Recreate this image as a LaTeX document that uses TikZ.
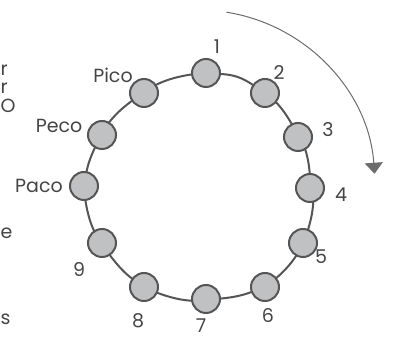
\documentclass[tikz,border=0pt]{standalone}
\usepackage{fontspec}
\setmainfont{Poppins}
\usepackage{xcolor}
\usetikzlibrary{arrows.meta,backgrounds}
\definecolor{ringgray}{HTML}{555555}
\definecolor{ballgray}{HTML}{C0C1C3}
\definecolor{textgray}{HTML}{444444}

\begin{document}
\begin{tikzpicture}[x=1pt,y=1pt,
  ball/.style={circle,draw=ringgray,fill=ballgray,line width=2pt,minimum size=28pt,inner sep=0pt},
  ring/.style={draw=ringgray,line width=2pt},
  lbl/.style={text=textgray,inner sep=0pt,font=\fontsize{19}{19}\selectfont},
  flow/.style={draw=gray!85!black,line width=1pt,-{Triangle[width=18pt,length=11pt]}}]
\useasboundingbox (0,0) rectangle (400,340);
% the twelve seats
\node[ball] (n1) at (206,267) {};
\node[ball] (n2) at (265,247) {};
\node[ball] (n3) at (298,203) {};
\node[ball] (n4) at (310,152) {};
\node[ball] (n5) at (303,97) {};
\node[ball] (n6) at (265,53) {};
\node[ball] (n7) at (206,41) {};
\node[ball] (n8) at (144,53) {};
\node[ball] (n9) at (102,97) {};
\node[ball] (paco) at (84,154) {};
\node[ball] (peco) at (102,205) {};
\node[ball] (pico) at (144,247) {};
\begin{scope}[on background layer]
\draw[ring] (n1) to[bend left=15] (n2) to[bend left=15] (n3) to[bend left=15] (n4)
  to[bend left=15] (n5) to[bend left=15] (n6) to[bend left=15] (n7)
  to[bend left=15] (n8) to[bend left=15] (n9) to[bend left=15] (paco)
  to[bend left=15] (peco) to[bend left=15] (pico) to[bend left=15] (n1);
\end{scope}
% labels
\node[lbl] (t1) at (217,293) {1};
\node[lbl] (t2) at (279,267) {2};
\node[lbl] (t3) at (328,210) {3};
\node[lbl] (t4) at (341,145) {4};
\node[lbl] (t5) at (321,83) {5};
\node[lbl] (t6) at (268,24) {6};
\node[lbl] (t7) at (201,14) {7};
\node[lbl] (t8) at (138,19) {8};
\node[lbl] (t9) at (79,70) {9};
\node[lbl] (tpaco) at (39,154) {Paco};
\node[lbl] (tpeco) at (59,214) {Peco};
\node[lbl] (tpico) at (113,265) {Pico};
% direction of the count
\coordinate (flowstart) at (226.5,327.8);
\draw[flow] (flowstart) arc[start angle=81,end angle=4,radius=176];
% text at the left edge
\node[lbl,anchor=west] (cut1) at (0.5,270) {r};
\node[lbl,anchor=west] (cut2) at (0.5,252) {r};
\node[lbl,anchor=west] (cut3) at (0.5,234) {O};
\node[lbl,anchor=west] (cut4) at (0.5,107) {e};
\node[lbl,anchor=west] (cut5) at (0.5,21) {s};
\end{tikzpicture}
\end{document}
